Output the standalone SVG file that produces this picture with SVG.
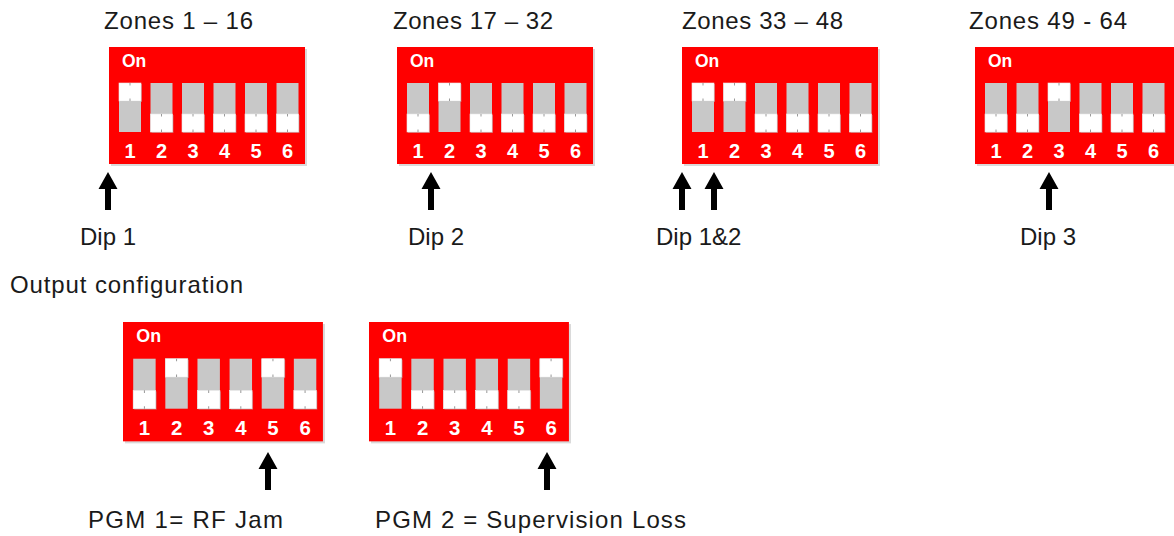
<svg xmlns="http://www.w3.org/2000/svg" xmlns:xlink="http://www.w3.org/1999/xlink" width="1174" height="536" viewBox="0 0 1174 536">
<style>
.board{fill:#ff0000}
.bshadow{fill:#d9d9d9}
.slot{fill:#c8c8c8}
.knob{fill:#ffffff;stroke:#e6e6e6;stroke-width:0.6}
.notch{stroke:#9a9a9a;stroke-width:1;fill:none}
.on{font-family:"Liberation Sans",Arial,sans-serif;font-weight:bold;font-size:17.5px;fill:#ffffff}
.num{font-family:"Liberation Sans",Arial,sans-serif;font-weight:bold;font-size:20px;fill:#ffffff;text-anchor:middle}
.lbl{font-family:"Liberation Sans",Arial,sans-serif;font-size:24px;fill:#1a1a1a}
.arrow{fill:#000000}
</style>
<defs>
<g id="sw-up">
<rect class="slot" x="0" y="36" width="22" height="49"/>
<rect x="1" y="37" width="22" height="18" fill="#b0b0b0" opacity="0.5"/>
<rect class="knob" x="0" y="36" width="22" height="18"/>
<path class="notch" d="M11 36v2.5M11 54v-2.5"/>
</g>
<g id="sw-down">
<rect class="slot" x="0" y="36" width="22" height="49"/>
<rect x="1" y="68" width="22" height="18" fill="#b0b0b0" opacity="0.5"/>
<rect class="knob" x="0" y="67" width="22" height="18"/>
<path class="notch" d="M11 67v2.5M11 85v-2.5"/>
</g>
<path id="arr" d="M0 0L9.5 17L3 17L3 38L-3 38L-3 17L-9.5 17Z"/>
</defs>
<rect width="1174" height="536" fill="#ffffff"/>

<g id="labels">
<text class="lbl" x="104" y="29" textLength="149" lengthAdjust="spacing">Zones 1 – 16</text>
<text class="lbl" x="393" y="29" textLength="160" lengthAdjust="spacing">Zones 17 – 32</text>
<text class="lbl" x="682" y="29" textLength="161" lengthAdjust="spacing">Zones 33 – 48</text>
<text class="lbl" x="969" y="29" textLength="158" lengthAdjust="spacing">Zones 49 - 64</text>
<text class="lbl" x="80" y="245">Dip 1</text>
<text class="lbl" x="408" y="245">Dip 2</text>
<text class="lbl" x="656" y="245">Dip 1&amp;2</text>
<text class="lbl" x="1020" y="245">Dip 3</text>
<text class="lbl" x="10" y="293" textLength="233" lengthAdjust="spacing">Output configuration</text>
<text class="lbl" x="88" y="528" textLength="195" lengthAdjust="spacing">PGM 1= RF Jam</text>
<text class="lbl" x="375" y="528" textLength="311" lengthAdjust="spacing">PGM 2 = Supervision Loss</text>
</g>

<g id="dip-zones-1-16" transform="translate(109,47)">
<rect class="bshadow" x="2" y="2" width="196" height="117"/>
<rect class="board" x="0" y="0" width="196" height="117"/>
<text class="on" x="13" y="20">On</text>
<use xlink:href="#sw-up" x="10"/>
<use xlink:href="#sw-down" x="41.5"/>
<use xlink:href="#sw-down" x="73"/>
<use xlink:href="#sw-down" x="104.5"/>
<use xlink:href="#sw-down" x="136"/>
<use xlink:href="#sw-down" x="167.5"/>
<text class="num" x="21" y="111">1</text><text class="num" x="52.5" y="111">2</text><text class="num" x="84" y="111">3</text><text class="num" x="115.5" y="111">4</text><text class="num" x="147" y="111">5</text><text class="num" x="178.5" y="111">6</text>
</g>

<g id="dip-zones-17-32" transform="translate(397,47)">
<rect class="bshadow" x="2" y="2" width="196" height="117"/>
<rect class="board" x="0" y="0" width="196" height="117"/>
<text class="on" x="13" y="20">On</text>
<use xlink:href="#sw-down" x="10"/>
<use xlink:href="#sw-up" x="41.5"/>
<use xlink:href="#sw-down" x="73"/>
<use xlink:href="#sw-down" x="104.5"/>
<use xlink:href="#sw-down" x="136"/>
<use xlink:href="#sw-down" x="167.5"/>
<text class="num" x="21" y="111">1</text><text class="num" x="52.5" y="111">2</text><text class="num" x="84" y="111">3</text><text class="num" x="115.5" y="111">4</text><text class="num" x="147" y="111">5</text><text class="num" x="178.5" y="111">6</text>
</g>

<g id="dip-zones-33-48" transform="translate(682,47)">
<rect class="bshadow" x="2" y="2" width="196" height="117"/>
<rect class="board" x="0" y="0" width="196" height="117"/>
<text class="on" x="13" y="20">On</text>
<use xlink:href="#sw-up" x="10"/>
<use xlink:href="#sw-up" x="41.5"/>
<use xlink:href="#sw-down" x="73"/>
<use xlink:href="#sw-down" x="104.5"/>
<use xlink:href="#sw-down" x="136"/>
<use xlink:href="#sw-down" x="167.5"/>
<text class="num" x="21" y="111">1</text><text class="num" x="52.5" y="111">2</text><text class="num" x="84" y="111">3</text><text class="num" x="115.5" y="111">4</text><text class="num" x="147" y="111">5</text><text class="num" x="178.5" y="111">6</text>
</g>

<g id="dip-zones-49-64" transform="translate(975,47)">
<rect class="bshadow" x="2" y="2" width="200" height="117"/>
<rect class="board" x="0" y="0" width="200" height="117"/>
<text class="on" x="13" y="20">On</text>
<use xlink:href="#sw-down" x="10"/>
<use xlink:href="#sw-down" x="41.5"/>
<use xlink:href="#sw-up" x="73"/>
<use xlink:href="#sw-down" x="104.5"/>
<use xlink:href="#sw-down" x="136"/>
<use xlink:href="#sw-down" x="167.5"/>
<text class="num" x="21" y="111">1</text><text class="num" x="52.5" y="111">2</text><text class="num" x="84" y="111">3</text><text class="num" x="115.5" y="111">4</text><text class="num" x="147" y="111">5</text><text class="num" x="178.5" y="111">6</text>
</g>

<g id="dip-pgm1" transform="translate(123,322) scale(1.02)">
<rect class="bshadow" x="2" y="2" width="196" height="117"/>
<rect class="board" x="0" y="0" width="196" height="117"/>
<text class="on" x="13" y="20">On</text>
<use xlink:href="#sw-down" x="10"/>
<use xlink:href="#sw-up" x="41.5"/>
<use xlink:href="#sw-down" x="73"/>
<use xlink:href="#sw-down" x="104.5"/>
<use xlink:href="#sw-up" x="136"/>
<use xlink:href="#sw-down" x="167.5"/>
<text class="num" x="21" y="111">1</text><text class="num" x="52.5" y="111">2</text><text class="num" x="84" y="111">3</text><text class="num" x="115.5" y="111">4</text><text class="num" x="147" y="111">5</text><text class="num" x="178.5" y="111">6</text>
</g>

<g id="dip-pgm2" transform="translate(369,322) scale(1.02)">
<rect class="bshadow" x="2" y="2" width="196" height="117"/>
<rect class="board" x="0" y="0" width="196" height="117"/>
<text class="on" x="13" y="20">On</text>
<use xlink:href="#sw-up" x="10"/>
<use xlink:href="#sw-down" x="41.5"/>
<use xlink:href="#sw-down" x="73"/>
<use xlink:href="#sw-down" x="104.5"/>
<use xlink:href="#sw-down" x="136"/>
<use xlink:href="#sw-up" x="167.5"/>
<text class="num" x="21" y="111">1</text><text class="num" x="52.5" y="111">2</text><text class="num" x="84" y="111">3</text><text class="num" x="115.5" y="111">4</text><text class="num" x="147" y="111">5</text><text class="num" x="178.5" y="111">6</text>
</g>

<g id="connectors" class="arrow">
<use xlink:href="#arr" x="108" y="172"/>
<use xlink:href="#arr" x="431" y="172"/>
<use xlink:href="#arr" x="682" y="172"/>
<use xlink:href="#arr" x="714" y="172"/>
<use xlink:href="#arr" x="1049" y="172"/>
<use xlink:href="#arr" x="268" y="452"/>
<use xlink:href="#arr" x="547" y="452"/>
</g>
</svg>
